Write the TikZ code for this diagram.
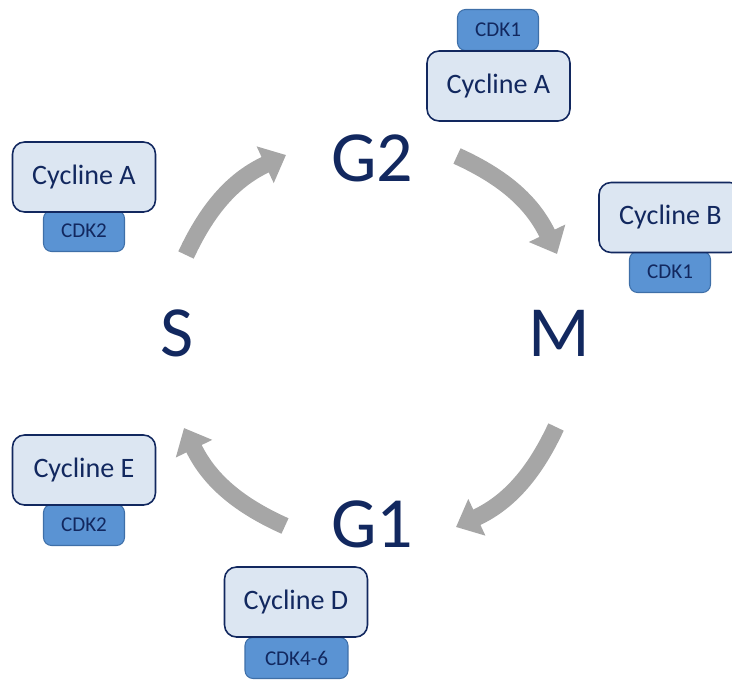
\documentclass[tikz,border=0pt]{standalone}
\usepackage{fontspec}
\setmainfont{Carlito}
\usetikzlibrary{arrows.meta}

\definecolor{navy}{HTML}{12285F}
\definecolor{paleblue}{HTML}{DCE6F2}
\definecolor{cdkblue}{HTML}{5A93D3}
\definecolor{cdkline}{HTML}{3E6FA8}
\definecolor{arrowgray}{HTML}{A6A6A6}

\begin{document}
\begin{tikzpicture}[x=0.02cm,y=-0.02cm]
      \tikzset { cyclbox/.style = { draw=navy,fill=paleblue,line width=0.9pt,rounded corners=0.24cm,
                                    minimum width=2.86cm,minimum height=1.4cm,text=navy,font=\fontsize{16}{19}\selectfont } }
      \tikzset { cdkbox/.style = { draw=cdkline,fill=cdkblue,line width=0.6pt,rounded corners=0.16cm,
                                   minimum width=1.62cm,minimum height=0.82cm,text=navy,font=\fontsize{12}{14}\selectfont } }
      \tikzset { phase/.style = { text=navy,font=\fontsize{41}{48}\selectfont } }
      \tikzset { turn/.style = { draw=arrowgray,line width=0.34cm,-{Triangle[width=0.78cm,length=0.46cm]},bend left=20 } }

      \useasboundingbox (0,0) rectangle (732,679);

      \node[phase] (g2) at (372,158) {G2};
      \node[phase] (m) at (559,333) {M};
      \node[phase] (g1) at (372,524) {G1};
      \node[phase] (s) at (177,333) {S};

      % complexes, CDK behind its cycline
      \node[cdkbox] (cdk1a) at (498,30) {CDK1};
      \node[cyclbox] (cycla) at (498.5,86) {Cycline A};

      \node[cdkbox] (cdk2a) at (84,231) {CDK2};
      \node[cyclbox] (cyclas) at (84,177) {Cycline A};

      \node[cdkbox] (cdk1b) at (670,272) {CDK1};
      \node[cyclbox] (cyclb) at (670.5,217.5) {Cycline B};

      \node[cdkbox] (cdk2e) at (84,525) {CDK2};
      \node[cyclbox] (cycle) at (84,470) {Cycline E};

      \node[cdkbox,minimum width=2.06cm] (cdk46) at (296.5,658) {CDK4-6};
      \node[cyclbox] (cycld) at (296,602) {Cycline D};

      % arrow ends on a circle round (371,341)
      \coordinate (s-out) at (186,255);
      \coordinate (g2-in) at (286,155);
      \coordinate (g2-out) at (457,156);
      \coordinate (m-in) at (557,254);
      \coordinate (m-out) at (556,427);
      \coordinate (g1-in) at (456,527);
      \coordinate (g1-out) at (285,526);
      \coordinate (s-in) at (184,428);

      \draw[turn] (s-out) to (g2-in);
      \draw[turn] (g2-out) to (m-in);
      \draw[turn] (m-out) to (g1-in);
      \draw[turn] (g1-out) to (s-in);

    \end{tikzpicture}
\end{document}
